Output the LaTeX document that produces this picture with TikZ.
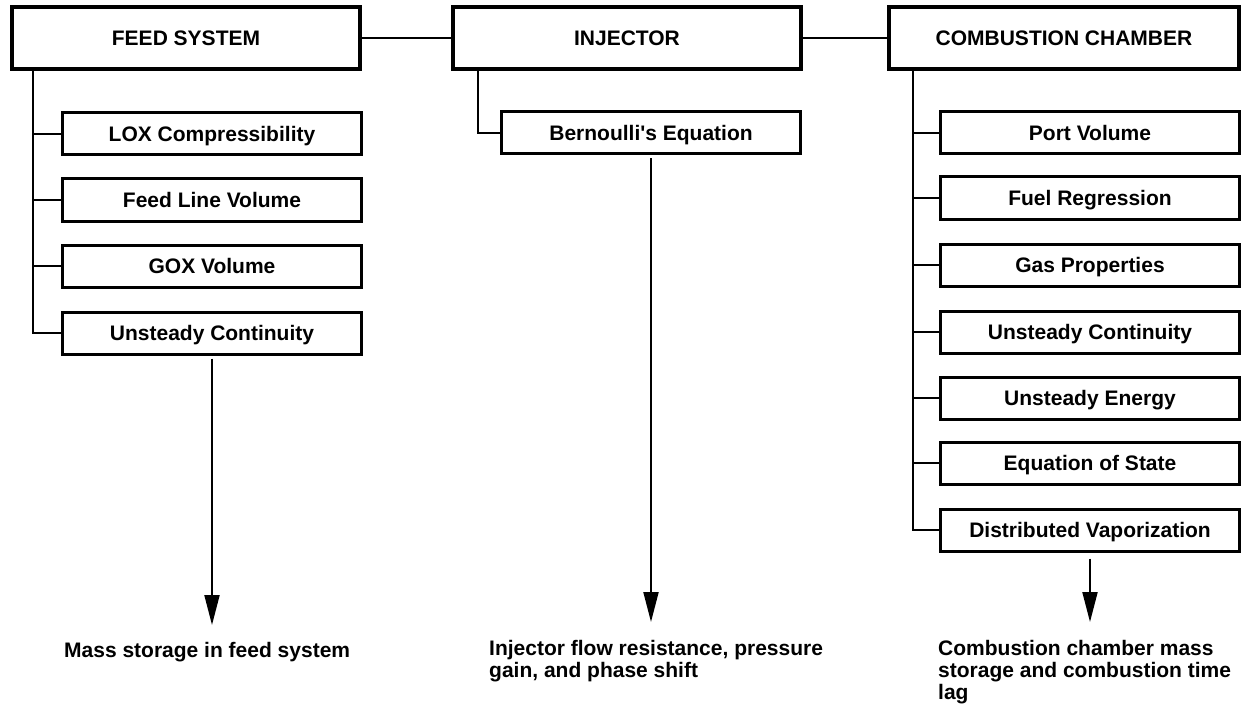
\documentclass[tikz,border=0pt]{standalone}
\usepackage{fontspec}
\setmainfont{Liberation Sans}
\usetikzlibrary{arrows.meta}
\begin{document}
\begin{tikzpicture}[x=1pt,y=-1pt,
  every node/.style={font=\bfseries\fontsize{21}{22}\selectfont},
  topbox/.style={draw, line width=3.2pt, minimum height=62pt, inner sep=0pt, text height=15pt, text depth=0pt},
  subbox/.style={draw, line width=3pt, minimum width=299pt, minimum height=42pt, inner sep=0pt, text height=15pt, text depth=0pt},
  link/.style={line width=2.8pt},
  flow/.style={line width=2pt, -{Triangle[length=30pt,width=15pt]}},
  result/.style={anchor=north west, align=left, inner sep=0pt}]
\useasboundingbox (0,0) rectangle (1248,706);
% top boxes
\node[topbox, minimum width=348pt] (feed) at (186,38) {FEED SYSTEM};
\node[topbox, minimum width=348pt] (inj) at (627,38) {INJECTOR};
\node[topbox, minimum width=350pt] (comb) at (1064,38) {COMBUSTION CHAMBER};
\draw[link] (feed.east) -- (inj.west);
\draw[link] (inj.east) -- (comb.west);
% feed system branches
\node[subbox] (lox) at (212,134) {LOX Compressibility};
\node[subbox] (fline) at (212,200) {Feed Line Volume};
\node[subbox] (gox) at (212,266) {GOX Volume};
\node[subbox] (fuc) at (212,333) {Unsteady Continuity};
\draw[link] (feed.south west -| 33,0) |- (fuc.west);
\foreach \b in {lox,fline,gox} \draw[link] (\b.west -| 33,0) -- (\b.west);
% injector branch
\node[subbox] (bern) at (651,133) {Bernoulli\textquotesingle s Equation};
\draw[link] (inj.south west -| 478,0) |- (bern.west);
% combustion chamber branches
\node[subbox] (port) at (1090,133) {Port Volume};
\node[subbox] (fuel) at (1090,198) {Fuel Regression};
\node[subbox] (gas) at (1090,265) {Gas Properties};
\node[subbox] (cuc) at (1090,332) {Unsteady Continuity};
\node[subbox] (ue) at (1090,398) {Unsteady Energy};
\node[subbox] (eos) at (1090,463) {Equation of State};
\node[subbox] (dv) at (1090,530) {Distributed Vaporization};
\draw[link] (comb.south west -| 913,0) |- (dv.west);
\foreach \b in {port,fuel,gas,cuc,ue,eos} \draw[link] (\b.west -| 913,0) -- (\b.west);
% outputs
\coordinate (fa) at (212,625);
\coordinate (ia) at (651,622);
\coordinate (ca) at (1090,622);
\draw[flow, shorten <=3pt] (fuc.south) -- (fa);
\draw[flow, shorten <=3pt] (bern.south) -- (ia);
\draw[flow, shorten <=6pt] (dv.south) -- (ca);
\node[anchor=base west, inner sep=0pt] (ft) at (64,657) {Mass storage in feed system};
\node[result] (it) at (489,640) {Injector flow resistance, pressure\\gain, and phase shift};
\node[result] (ct) at (938,640) {Combustion chamber mass\\storage and combustion time\\lag};
\end{tikzpicture}
\end{document}
